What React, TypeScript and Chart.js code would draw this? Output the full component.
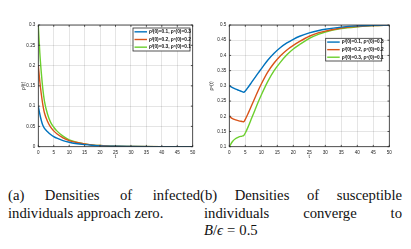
import React, { useEffect, useRef } from "react";
import { Chart, registerables } from "chart.js";

Chart.register(...registerables);

// ---- data: infected densities (panel a)
const tInfected = [0, 0.5, 1, 1.5, 2, 3, 4, 5, 6, 8, 10, 12, 15, 18, 20, 25, 30, 40, 50];
const infectedBlue = [0.1, 0.08, 0.064, 0.052, 0.045, 0.037, 0.03, 0.025, 0.021, 0.015, 0.011, 0.008, 0.005, 0.003, 0.002, 0.001, 0.0005, 0.0002, 0.0001];
const infectedRed = [0.2, 0.16, 0.128, 0.102, 0.083, 0.062, 0.048, 0.039, 0.032, 0.022, 0.015, 0.011, 0.007, 0.004, 0.003, 0.001, 0.0006, 0.0002, 0.0001];
const infectedGreen = [0.3, 0.23, 0.18, 0.14, 0.112, 0.08, 0.06, 0.048, 0.039, 0.026, 0.017, 0.012, 0.007, 0.004, 0.003, 0.001, 0.0006, 0.0002, 0.0001];

// ---- data: susceptible densities (panel b)
const tSusceptible = [0, 1, 2, 3, 4, 4.5, 5, 6, 7, 8, 9, 10, 12, 14, 16, 18, 20, 22, 25, 28, 30, 35, 40, 45, 50];
const susceptibleBlue = [0.3, 0.294, 0.289, 0.285, 0.281, 0.279, 0.283, 0.297, 0.312, 0.327, 0.342, 0.356, 0.384, 0.407, 0.426, 0.441, 0.453, 0.463, 0.474, 0.482, 0.486, 0.493, 0.497, 0.499, 0.5];
const susceptibleRed = [0.2, 0.192, 0.188, 0.185, 0.183, 0.182, 0.19, 0.212, 0.236, 0.26, 0.284, 0.306, 0.345, 0.375, 0.399, 0.418, 0.433, 0.446, 0.463, 0.475, 0.48, 0.49, 0.495, 0.498, 0.5];
const susceptibleGreen = [0.1, 0.117, 0.127, 0.132, 0.135, 0.137, 0.145, 0.168, 0.194, 0.22, 0.246, 0.27, 0.314, 0.35, 0.378, 0.402, 0.421, 0.436, 0.456, 0.47, 0.477, 0.488, 0.494, 0.498, 0.5];

const seriesLabels = ["ρᴵ(0)=0.1, ρˢ(0)=0.3", "ρᴵ(0)=0.2, ρˢ(0)=0.2", "ρᴵ(0)=0.3, ρˢ(0)=0.1"];
const seriesColors = ["#0072BD", "#D95319", "#6CCF2E"];

const AXIS_COLOR = "#2a2a2a";
const TICK_FONT = { family: "Liberation Sans", size: 4.6 };

const framePlugin = {
  id: "frameAndLegend",
  afterDatasetsDraw(chart: any) {
    const { ctx, chartArea } = chart;
    const { left, right, top, bottom } = chartArea;
    const xs = chart.scales.x;
    const ys = chart.scales.y;
    ctx.save();
    ctx.strokeStyle = AXIS_COLOR;
    ctx.lineWidth = 0.8;
    ctx.strokeRect(left, top, right - left, bottom - top);
    ctx.beginPath();
    xs.ticks.forEach((t: any) => {
      const px = xs.getPixelForValue(t.value);
      ctx.moveTo(px, bottom);
      ctx.lineTo(px, bottom - 1.8);
      ctx.moveTo(px, top);
      ctx.lineTo(px, top + 1.8);
    });
    ys.ticks.forEach((t: any) => {
      const py = ys.getPixelForValue(t.value);
      ctx.moveTo(left, py);
      ctx.lineTo(left + 1.8, py);
      ctx.moveTo(right, py);
      ctx.lineTo(right - 1.8, py);
    });
    ctx.stroke();

    const lg = chart.options.plugins.insetLegend;
    if (lg) {
      ctx.fillStyle = "#ffffff";
      ctx.fillRect(lg.x, lg.y, lg.w, lg.h);
      ctx.strokeStyle = AXIS_COLOR;
      ctx.lineWidth = 0.8;
      ctx.strokeRect(lg.x, lg.y, lg.w, lg.h);
      const rowH = lg.h / chart.data.datasets.length;
      chart.data.datasets.forEach((ds: any, i: number) => {
        const cy = lg.y + rowH * (i + 0.5);
        ctx.strokeStyle = ds.borderColor;
        ctx.lineWidth = 1.4;
        ctx.beginPath();
        ctx.moveTo(lg.x + 1.5, cy);
        ctx.lineTo(lg.x + 14, cy);
        ctx.stroke();
        ctx.fillStyle = "#111";
        ctx.font = "bold 4.8px 'Liberation Sans'";
        ctx.textBaseline = "middle";
        ctx.textAlign = "left";
        ctx.fillText(ds.label, lg.x + 16, cy);
      });
    }
    ctx.restore();
  },
};

function fmt(v: number) {
  return String(Number(v.toFixed(2)));
}

function makeConfig(
  t: number[],
  series: number[][],
  yMin: number,
  yMax: number,
  yTitle: string,
  yAxisWidth: number,
  yTitlePad: number,
  padRight: number,
  legend: { x: number; y: number; w: number; h: number }
): any {
  return {
    type: "line",
    data: {
      datasets: series.map((s, i) => ({
        label: seriesLabels[i],
        data: t.map((x, j) => ({ x, y: s[j] })),
        borderColor: seriesColors[i],
        backgroundColor: seriesColors[i],
        borderWidth: 1.4,
        pointRadius: 0,
        cubicInterpolationMode: "monotone",
        fill: false,
      })),
    },
    options: {
      responsive: false,
      animation: false,
      devicePixelRatio: 1,
      layout: { padding: { left: 0, top: 25, right: padRight, bottom: 0 } },
      plugins: {
        legend: { display: false },
        tooltip: { enabled: false },
        insetLegend: legend,
      },
      scales: {
        x: {
          type: "linear",
          min: 0,
          max: 50,
          border: { display: false },
          grid: { color: "rgba(0,0,0,0.13)", lineWidth: 0.8, drawTicks: false },
          ticks: { stepSize: 5, padding: 3, font: TICK_FONT, color: "#222", maxRotation: 0, autoSkip: false },
          title: { display: true, text: "t", font: { family: "Liberation Sans", size: 5 }, color: "#333", padding: { top: 0, bottom: 10.3 } },
          afterFit: (scale: any) => {
            scale.height = 23.3;
          },
        },
        y: {
          type: "linear",
          min: yMin,
          max: yMax,
          border: { display: false },
          grid: { color: "rgba(0,0,0,0.13)", lineWidth: 0.8, drawTicks: false },
          ticks: { stepSize: 0.05, padding: 3, font: TICK_FONT, color: "#222", callback: (v: number) => fmt(v) },
          title: { display: true, text: yTitle, font: { family: "Liberation Sans", size: 5 }, color: "#333", padding: { top: yTitlePad, bottom: 0 } },
          afterFit: (scale: any) => {
            scale.width = yAxisWidth;
          },
        },
      },
    },
    plugins: [framePlugin],
  };
}

function ChartCanvas({ config, left, width, height }: any) {
  const ref = useRef<HTMLCanvasElement>(null);
  useEffect(() => {
    if (!ref.current) return;
    const chart = new Chart(ref.current, config);
    return () => chart.destroy();
  }, []);
  return (
    <canvas
      ref={ref}
      width={width}
      height={height}
      style={{ position: "absolute", left, top: 0, width, height }}
    />
  );
}

const captionStyle: React.CSSProperties = {
  position: "absolute",
  top: 187,
  fontFamily: "'Liberation Serif', 'Times New Roman', serif",
  fontSize: 14.7,
  lineHeight: "17.7px",
  textAlign: "justify",
  color: "#111",
};

export default function App() {
  const leftConfig = makeConfig(
    tInfected,
    [infectedBlue, infectedRed, infectedGreen],
    0,
    0.3,
    "ρᴵ(t)",
    38.3,
    20.5,
    12.3,
    { x: 133, y: 28, w: 57, h: 23 }
  );
  const rightConfig = makeConfig(
    tSusceptible,
    [susceptibleBlue, susceptibleRed, susceptibleGreen],
    0.1,
    0.5,
    "ρˢ(t)",
    24.3,
    4,
    21.7,
    { x: 120.7, y: 38.3, w: 56, h: 22.7 }
  );
  return (
    <div style={{ position: "absolute", left: 0, top: 0, width: 411, height: 249, background: "#fff", overflow: "hidden" }}>
      <ChartCanvas config={leftConfig} left={0} width={205} height={170} />
      <ChartCanvas config={rightConfig} left={205} width={206} height={170} />
      <div style={{ ...captionStyle, left: 8, width: 192 }}>
        (a) Densities of infected individuals approach zero.
      </div>
      <div style={{ ...captionStyle, left: 204, width: 198, textIndent: -4 }}>
        (b) Densities of susceptible individuals converge to{" "}
        <span style={{ display: "inline-block", width: 72, whiteSpace: "nowrap", textIndent: 0 }}>
          <i>B</i>/<i>ϵ</i>
          <span style={{ margin: "0 4px" }}>=</span>0.5
        </span>
      </div>
    </div>
  );
}
